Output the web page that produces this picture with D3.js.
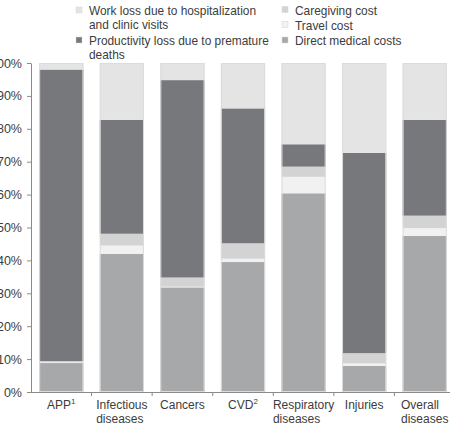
<!DOCTYPE html>
<html>
<head>
<meta charset="utf-8">
<script src="https://cdn.jsdelivr.net/npm/d3@7"></script>
<style>
  body { margin: 0; background: #fff; }
  text { font-family: "Liberation Sans", Arial, sans-serif; fill: #3c3c3c; }
</style>
</head>
<body>
<div id="chart-area"></div>
<script>
// categories (x axis), superscript marks kept separate
var categories = ["APP", "Infectious diseases", "Cancers", "CVD", "Respiratory diseases", "Injuries", "Overall diseases"];
var superscripts = ["1", "", "", "2", "", "", ""];

// series values, % of total cost (bottom to top)
var directMedical = [8.8, 42.0, 31.8, 39.5, 60.4, 7.9, 47.5];
var travelCost = [0.2, 2.5, 0.2, 1.0, 5.0, 0.8, 2.3];
var caregivingCost = [0.4, 3.6, 2.8, 4.7, 3.1, 3.1, 3.8];
var productivityLoss = [88.6, 34.6, 60.0, 41.0, 6.8, 60.9, 29.1];
var workLoss = [2.0, 17.3, 5.2, 13.8, 24.7, 27.3, 17.3];

var yTicks = [0, 10, 20, 30, 40, 50, 60, 70, 80, 90, 100];

var series = [
    { key: "direct", name: "Direct medical costs", values: directMedical, color: "#a7a8aa" },
    { key: "travel", name: "Travel cost", values: travelCost, color: "#f1f1f1" },
    { key: "caregiving", name: "Caregiving cost", values: caregivingCost, color: "#d3d3d4" },
    { key: "productivity", name: "Productivity loss due to premature deaths", values: productivityLoss, color: "#77787b" },
    { key: "workloss", name: "Work loss due to hospitalization and clinic visits", values: workLoss, color: "#e4e4e5" }
];

var rows = categories.map(function (c, i) {
    var r = { category: c };
    series.forEach(function (s) { r[s.key] = s.values[i]; });
    return r;
});

var W = 450, H = 430;
var svg = d3.select("#chart-area")
    .append("svg")
    .attr("width", W)
    .attr("height", H);

var x = d3.scaleBand()
    .domain(categories)
    .range([31, 455])
    .paddingInner(0.27)
    .paddingOuter(0.135);

var y = d3.scaleLinear().domain([0, 100]).range([392, 63]);

var stack = d3.stack().keys(series.map(function (s) { return s.key; }));
var stacked = stack(rows);

// bars
var layers = svg.append("g").selectAll("g")
    .data(stacked)
    .enter().append("g")
    .attr("fill", function (d, i) { return series[i].color; });

layers.selectAll("rect")
    .data(function (d) { return d; })
    .enter().append("rect")
    .attr("x", function (d) { return x(d.data.category); })
    .attr("y", function (d) { return y(d[1]); })
    .attr("width", x.bandwidth())
    .attr("height", function (d) { return y(d[0]) - y(d[1]); });

// light outline around each bar
svg.append("g").selectAll("rect")
    .data(rows)
    .enter().append("rect")
    .attr("x", function (d) { return x(d.category) + 0.5; })
    .attr("y", y(100) + 0.5)
    .attr("width", x.bandwidth() - 1)
    .attr("height", y(0) - y(100) - 1)
    .attr("fill", "none")
    .attr("stroke", "#dcdcdc")
    .attr("stroke-width", 1);

// y axis
var yAxis = svg.append("g")
    .attr("transform", "translate(31,0)")
    .call(d3.axisLeft(y).tickValues(yTicks).tickSize(4).tickSizeOuter(0).tickFormat(function (d) { return d + "%"; }));
yAxis.select(".domain").attr("stroke", "#8a8a8a");
yAxis.selectAll(".tick line").attr("stroke", "#8a8a8a");
yAxis.selectAll(".tick text")
    .attr("x", -9)
    .style("font-size", "12.5px")
    .style("font-family", "Liberation Sans, Arial, sans-serif")
    .attr("fill", "#3c3c3c");

// x axis baseline with ticks between bars
svg.append("line")
    .attr("x1", 31).attr("x2", W)
    .attr("y1", y(0) + 0.5).attr("y2", y(0) + 0.5)
    .attr("stroke", "#8a8a8a");

var step = x.step();
svg.append("g").selectAll("line")
    .data(categories.slice(1))
    .enter().append("line")
    .attr("x1", function (d) { return x(d) - (step - x.bandwidth()) / 2; })
    .attr("x2", function (d) { return x(d) - (step - x.bandwidth()) / 2; })
    .attr("y1", y(0))
    .attr("y2", y(0) + 4)
    .attr("stroke", "#8a8a8a");

// x labels: single words centred, two-line labels as a left-aligned block
var xl = svg.append("g").selectAll("text")
    .data(categories)
    .enter().append("text")
    .attr("y", 408.5)
    .style("font-size", "12px");

xl.each(function (d, i) {
    var t = d3.select(this);
    var cx = x(d) + x.bandwidth() / 2;
    var words = d.split(" ");
    if (words.length > 1) {
        var a = t.append("tspan").text(words[0]);
        var b = t.append("tspan").attr("dy", 14).text(words[1]);
        var wmax = Math.max(a.node().getComputedTextLength(), b.node().getComputedTextLength());
        a.attr("x", cx - wmax / 2);
        b.attr("x", cx - wmax / 2);
    } else {
        t.attr("x", cx).attr("text-anchor", "middle");
        t.append("tspan").text(d);
        if (superscripts[i]) {
            t.append("tspan").attr("dy", -4.5).style("font-size", "8px").text(superscripts[i]);
        }
    }
});

// legend
var legend = [
    { s: series[4], x: 76, lines: ["Work loss due to hospitalization", "and clinic visits"], y: 15 },
    { s: series[3], x: 76, lines: ["Productivity loss due to premature", "deaths"], y: 45 },
    { s: series[2], x: 282, lines: ["Caregiving cost"], y: 14.5 },
    { s: series[1], x: 282, lines: ["Travel cost"], y: 29.5 },
    { s: series[0], x: 282, lines: ["Direct medical costs"], y: 45 }
];

var lg = svg.append("g").selectAll("g")
    .data(legend)
    .enter().append("g");

lg.append("rect")
    .attr("x", function (d) { return d.x; })
    .attr("y", function (d) { return d.y - 8; })
    .attr("width", 6)
    .attr("height", 6)
    .attr("fill", function (d) { return d.s.color; })
    .attr("stroke", "#d6d6d6")
    .attr("stroke-width", 0.5);

lg.append("text")
    .attr("x", function (d) { return d.x + 13; })
    .attr("y", function (d) { return d.y; })
    .style("font-size", "11.9px")
    .each(function (d) {
        var t = d3.select(this);
        d.lines.forEach(function (l, i) {
            t.append("tspan").attr("x", d.x + 13).attr("dy", i === 0 ? 0 : 13.5).text(l);
        });
    });
</script>
</body>
</html>
